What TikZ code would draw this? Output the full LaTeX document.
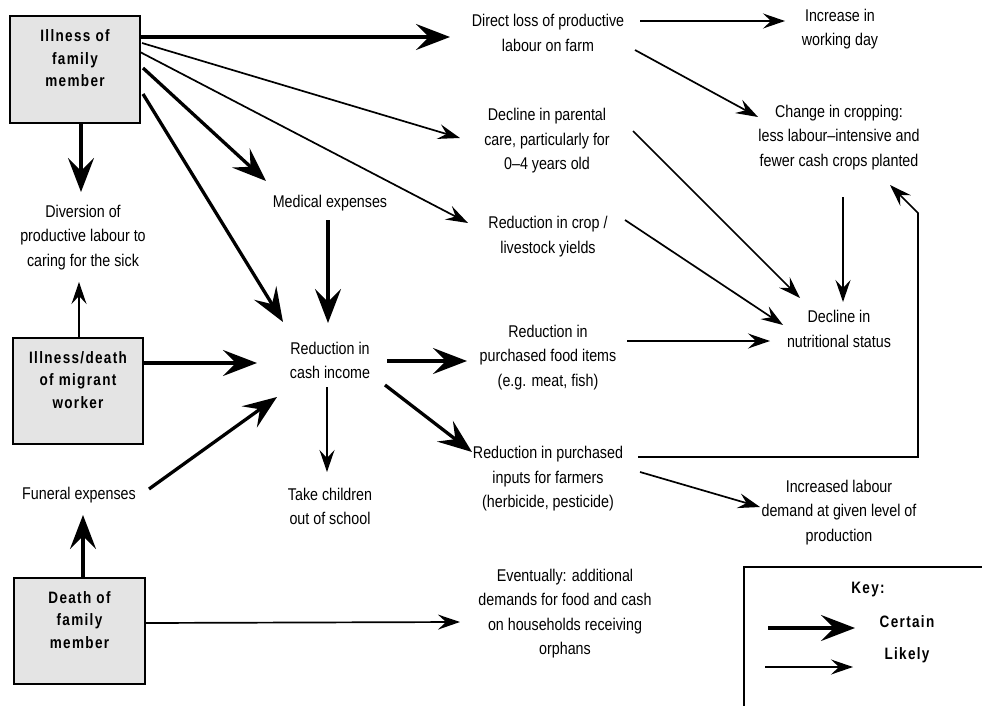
\documentclass[tikz,border=0pt]{standalone}
\usepackage{fontspec}
\setmainfont{Liberation Sans}[FakeStretch=0.84]
\newfontfamily\boxfont{Liberation Sans}[FakeStretch=0.82,LetterSpace=8]
\usetikzlibrary{arrows.meta}
\definecolor{boxgray}{HTML}{E4E4E4}
\begin{document}
\begin{tikzpicture}[x=1pt,y=-1pt,
  lbl/.style={align=center, font=\fontsize{17}{24.5}\selectfont, inner sep=0pt},
  grbox/.style={draw, line width=1.8pt, fill=boxgray, minimum width=130pt, minimum height=106pt,
     align=center, inner sep=0pt, font=\boxfont\bfseries\fontsize{16.5}{22.5}\selectfont},
  keylbl/.style={inner sep=0pt, font=\boxfont\bfseries\fontsize{16.5}{18}\selectfont},
  certain/.style={line width=3.3pt, -{Stealth[length=34pt,width=26pt,inset=13pt]}},
  likely/.style={line width=1.7pt, -{Stealth[length=22pt,width=15pt,inset=8pt]}},
]
\useasboundingbox (0,0) rectangle (982,706);
\clip (0,0) rectangle (982,706);
% boxes
\node[grbox, minimum height=107pt] (ifm) at (75,69.5) {Illness of\\family\\member\\\mbox{}};
\node[grbox] (mw) at (78,391) {Illness/death\\of migrant\\worker\\\mbox{}};
\node[grbox, minimum width=131pt] (dfm) at (79.5,631) {Death of\\family\\member\\\mbox{}};
% text nodes
\node[lbl] (dl) at (548,33) {Direct loss of productive\\labour on farm};
\node[lbl] (iw) at (840,29) {Increase in\\working day};
\node[lbl] (dp) at (547,141) {Decline in parental\\care, particularly for\\0–4 years old};
\node[lbl] (cc) at (839,137.5) {Change in cropping:\\less labour–intensive and\\fewer cash crops planted};
\node[lbl] (cy) at (548,236.5) {Reduction in crop /\\livestock yields};
\node[lbl] (dn) at (839,329) {Decline in\\nutritional status};
\node[lbl] (pf) at (548,357.5) {Reduction in\\purchased food items\\(e.g. meat, fish)};
\node[lbl] (pi) at (548,479) {Reduction in purchased\\inputs for farmers\\(herbicide, pesticide)};
\node[lbl] (il) at (839,512.5) {Increased labour\\demand at given level of\\production};
\node[lbl] (ev) at (565,613.5) {Eventually: additional\\demands for food and cash\\on households receiving\\orphans};
\node[lbl] (me) at (330,203) {Medical expenses};
\node[lbl] (ci) at (330,360.5) {Reduction in\\cash income};
\node[lbl] (tc) at (330,506.5) {Take children\\out of school};
\node[lbl] (fe) at (79,495) {Funeral expenses};
\node[lbl] (dv) at (83,237.5) {Diversion of\\productive labour to\\caring for the sick};
% certain arrows
\draw[certain] ([shift={(65,-32.5)}]ifm.center) -- ([shift={(-98,4)}]dl.center);
\draw[certain] ([shift={(6,53.5)}]ifm.center) -- ([shift={(-2,-45.5)}]dv.center);
\draw[certain] ([shift={(68,-1.5)}]ifm.center) -- ([shift={(-64,-22)}]me.center);
\draw[certain] ([shift={(68,24.5)}]ifm.center) -- ([shift={(-47,-38.5)}]ci.center);
\draw[certain] ([shift={(-2,17)}]me.center) -- ([shift={(-2,-37.5)}]ci.center);
\draw[certain] ([shift={(65,-28)}]mw.center) -- ([shift={(-73,2.5)}]ci.center);
\draw[certain] ([shift={(70,-6)}]fe.center) -- ([shift={(-53,36.5)}]ci.center);
\draw[certain] ([shift={(3.5,-53)}]dfm.center) -- ([shift={(4,20)}]fe.center);
\draw[certain] ([shift={(57,0.5)}]ci.center) -- ([shift={(-81,3.5)}]pf.center);
\draw[certain] ([shift={(55,24.5)}]ci.center) -- ([shift={(-76,-27)}]pi.center);
% likely arrows
\draw[likely] ([shift={(67,-26.5)}]ifm.center) -- ([shift={(-87,-3)}]dp.center);
\draw[likely] ([shift={(65,-17.5)}]ifm.center) -- ([shift={(-80,-13.5)}]cy.center);
\draw[likely] ([shift={(92,-12)}]dl.center) -- ([shift={(-55,-8)}]iw.center);
\draw[likely] ([shift={(87,17)}]dl.center) -- ([shift={(-81,-20.5)}]cc.center);
\draw[likely] ([shift={(86,-10)}]dp.center) -- ([shift={(-39,-31)}]dn.center);
\draw[likely] ([shift={(77,-16.5)}]cy.center) -- ([shift={(-56,-4)}]dn.center);
\draw[likely] ([shift={(79,-16.5)}]pf.center) -- ([shift={(-69,12)}]dn.center);
\draw[likely] ([shift={(4,59.5)}]cc.center) -- ([shift={(4,-27)}]dn.center);
\draw[likely] ([shift={(90,-22)}]pi.center) -- (918,457) -- (918,213) -- ([shift={(51,47.5)}]cc.center);
\draw[likely] ([shift={(92,-7)}]pi.center) -- ([shift={(-79,-5.5)}]il.center);
\draw[likely] ([shift={(1,-53)}]mw.center) -- ([shift={(-4,44.5)}]dv.center);
\draw[likely] ([shift={(-3,26.5)}]ci.center) -- ([shift={(-3,-34.5)}]tc.center);
\draw[likely] ([shift={(65.5,-8)}]dfm.center) -- ([shift={(-105,8.5)}]ev.center);
% key
\draw[line width=1.6pt] (744,712) -- (744,567) -- (990,567);
\node[keylbl] (key) at (868,590) {Key:};
\node[keylbl] (kc) at (907,622) {Certain};
\node[keylbl] (kl) at (907,655) {Likely};
\coordinate (kc0) at (768,628);
\coordinate (kl0) at (765,667);
\draw[certain] (kc0) -- ([shift={(-52,6)}]kc.center);
\draw[likely] (kl0) -- ([shift={(-54,12)}]kl.center);
\end{tikzpicture}
\end{document}
